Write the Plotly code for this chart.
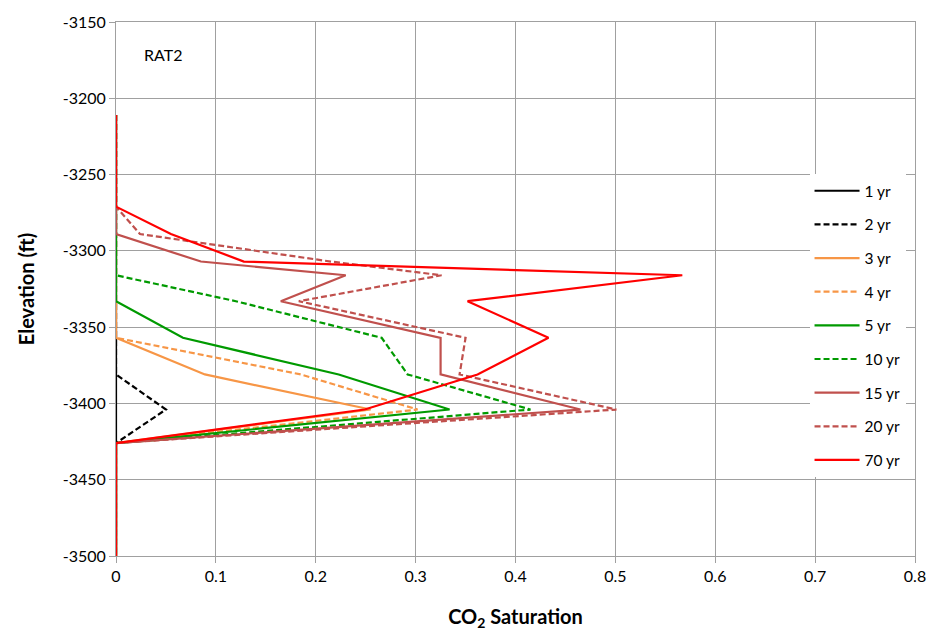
import plotly.graph_objects as go

elevation = [-3211, -3271, -3289, -3307, -3316, -3333, -3357, -3381, -3404, -3426, -3500]

sat_1yr  = [0, 0, 0, 0, 0, 0, 0, 0, 0, 0, 0]
sat_2yr  = [0, 0, 0, 0, 0, 0, 0, 0, 0.050, 0, 0]
sat_3yr  = [0, 0, 0, 0, 0, 0, 0, 0.089, 0.255, 0, 0]
sat_4yr  = [0, 0, 0, 0, 0, 0, 0, 0.185, 0.302, 0, 0]
sat_5yr  = [0, 0, 0, 0, 0, 0, 0.067, 0.223, 0.334, 0, 0]
sat_10yr = [0, 0, 0, 0, 0, 0.120, 0.266, 0.292, 0.415, 0, 0]
sat_15yr = [0, 0, 0, 0.085, 0.230, 0.165, 0.325, 0.325, 0.465, 0, 0]
sat_20yr = [0, 0, 0.024, 0.215, 0.326, 0.183, 0.350, 0.344, 0.501, 0, 0]
sat_70yr = [0, 0, 0.055, 0.128, 0.567, 0.352, 0.433, 0.362, 0.249, 0, 0]

series_names = ["1 yr", "2 yr", "3 yr", "4 yr", "5 yr", "10 yr", "15 yr", "20 yr", "70 yr"]
series_values = [sat_1yr, sat_2yr, sat_3yr, sat_4yr, sat_5yr, sat_10yr, sat_15yr, sat_20yr, sat_70yr]

y_tick_values = [-3150, -3200, -3250, -3300, -3350, -3400, -3450, -3500]
y_tick_labels = ["-3150", "-3200", "-3250", "-3300", "-3350", "-3400", "-3450", "-3500"]

colors = ["#000000", "#000000", "#F79646", "#F79646", "#009A00", "#009A00", "#C0504D", "#C0504D", "#FF0000"]
dashes = ["solid", "6px,3px", "solid", "6px,3px", "solid", "6px,3px", "solid", "6px,3px", "solid"]

FONT = "Lato, 'Open Sans', sans-serif"

fig = go.Figure()
for name, vals, c, d in zip(series_names, series_values, colors, dashes):
    fig.add_trace(go.Scatter(
        x=vals, y=elevation, mode="lines", name=name, legendgroup=name,
        line=dict(color=c, width=2.2, dash=d),
    ))

grid = "#A0A0A0"
fig.update_layout(
    width=938, height=636,
    margin=dict(l=116, r=17, t=17, b=79),
    paper_bgcolor="white", plot_bgcolor="white",
    font=dict(family=FONT, size=16, color="#000000"),
    showlegend=True,
    legend=dict(
        x=0.868, y=0.715, xanchor="left", yanchor="top",
        bgcolor="white", borderwidth=0,
        font=dict(family=FONT, size=15.5, color="#000000"),
        tracegroupgap=10.5, itemwidth=45,
    ),
    xaxis=dict(
        range=[0, 0.8], dtick=0.1, tick0=0,
        showgrid=True, gridcolor=grid, gridwidth=1,
        showline=True, linecolor=grid, linewidth=1, mirror=True,
        ticks="outside", ticklen=6, tickcolor=grid,
        zeroline=False,
        tickfont=dict(family=FONT, size=16),
        title=dict(text="<b>CO<sub>2</sub> Saturation</b>", font=dict(family=FONT, size=20), standoff=25),
    ),
    yaxis=dict(
        range=[-3500, -3150], tickvals=y_tick_values, ticktext=y_tick_labels,
        showgrid=True, gridcolor=grid, gridwidth=1,
        showline=True, linecolor=grid, linewidth=1, mirror=True,
        ticks="outside", ticklen=6, tickcolor=grid,
        zeroline=False,
        tickfont=dict(family=FONT, size=16),
        title=dict(text="<b>Elevation (ft)</b>", font=dict(family=FONT, size=20), standoff=22),
    ),
    annotations=[dict(
        x=0.047, y=-3171, xref="x", yref="y", text="RAT2", showarrow=False,
        font=dict(family=FONT, size=16, color="#000000"),
    )],
)

fig.write_html("out.html")
